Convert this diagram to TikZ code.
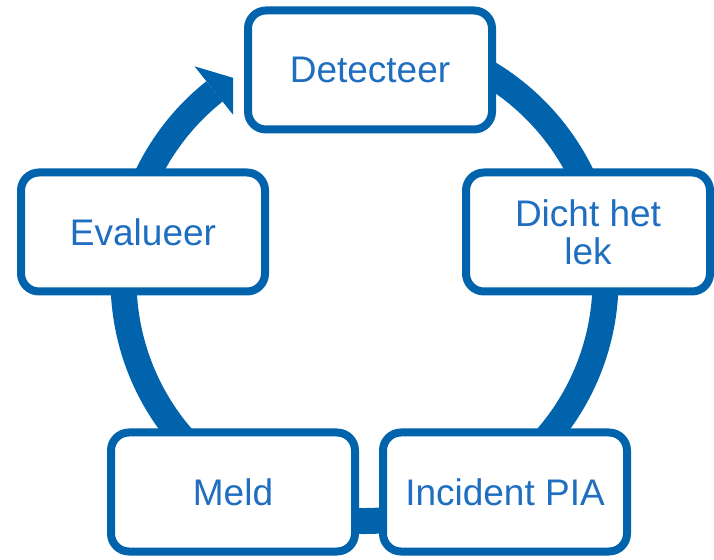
\documentclass[tikz,border=0pt]{standalone}
\usepackage{fontspec}
\setmainfont{Liberation Sans}
\usepackage{tikz}
\usetikzlibrary{calc,shadows}
\definecolor{ringblue}{RGB}{0,99,172}
\definecolor{txtblue}{RGB}{31,110,192}
\tikzset{
  stage/.style={draw=ringblue, line width=8pt, rounded corners=18pt, fill=white,
    minimum width=244pt, minimum height=119pt, text=txtblue, align=center,
    font=\fontsize{37}{38}\selectfont,
    drop shadow={opacity=0.2, shadow xshift=0pt, shadow yshift=-3pt}},
  ring/.style={draw=ringblue, line width=26pt}
}

\begin{document}
\begin{tikzpicture}[x=1pt,y=1pt]
\useasboundingbox (0,0) rectangle (714,559);
\coordinate (O) at (364.5,279);
% cycle ring with its head
\draw[ring] ($(O)+(95:241)$) arc[start angle=95, end angle=-231.5, radius=241];
\fill[ringblue] ($(O)+(128.5:273)$) -- ($(O)+(123:241)$) -- ($(O)+(128.5:211)$) -- cycle;
% stages
\node[stage] (D) at (370,489) {Detecteer};
\node[stage] (L) at (588,327) {Dicht het\\lek};
\node[stage] (I) at (505,67) {Incident PIA};
\node[stage] (M) at (233,67) {Meld};
\node[stage] (E) at (143,327) {Evalueer};
\end{tikzpicture}
\end{document}
